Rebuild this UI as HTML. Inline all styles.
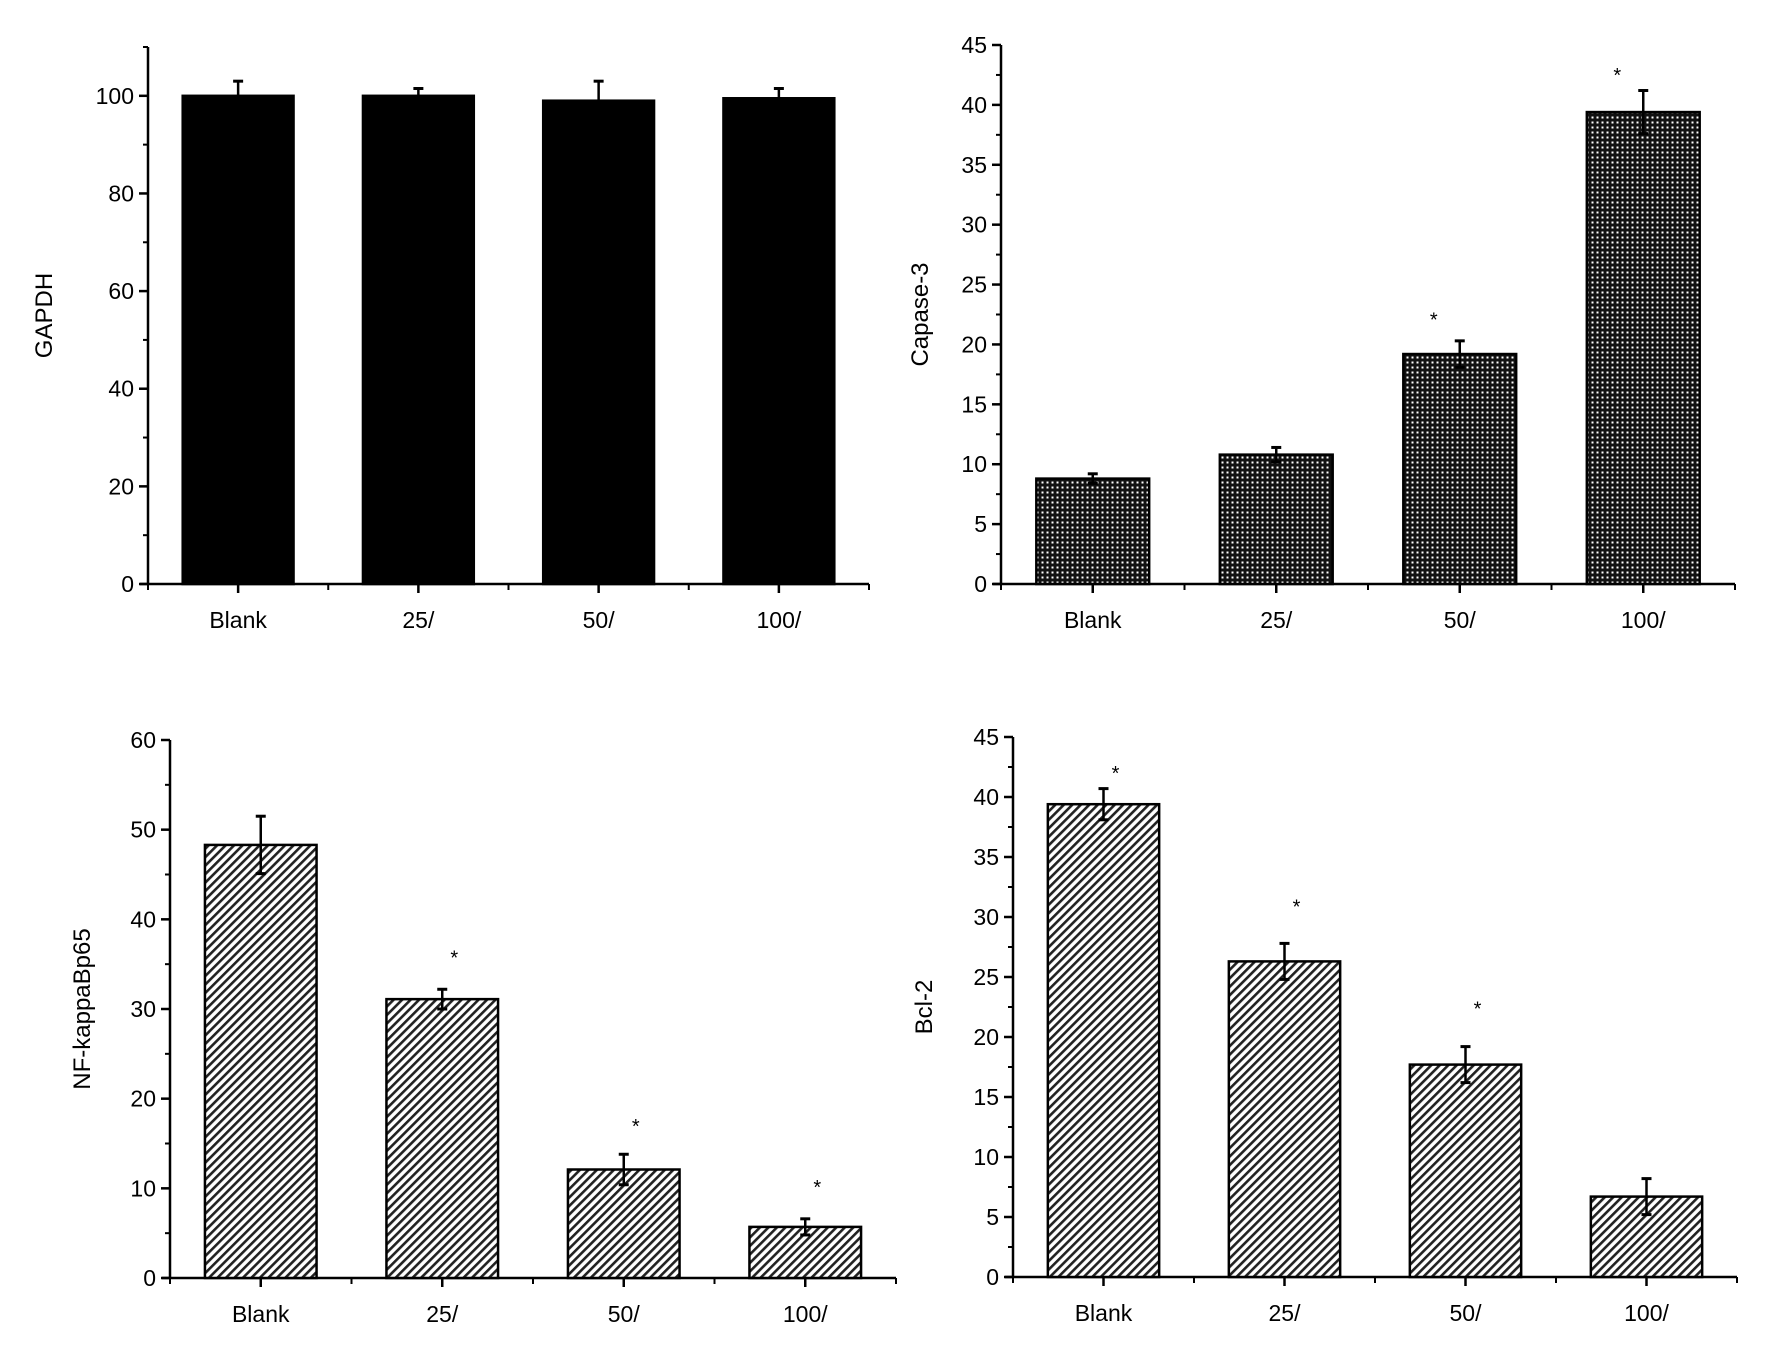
<!DOCTYPE html>
<html><head><meta charset="utf-8"><style>
html,body{margin:0;padding:0;background:#fff;}
svg{display:block;font-family:"Liberation Sans",Arial,sans-serif;}
</style></head><body>
<svg id="chart" width="1772" height="1353" viewBox="0 0 1772 1353">
<defs>
<pattern id="grid" width="5" height="5" patternUnits="userSpaceOnUse">
<rect width="5" height="5" fill="#111"/><rect x="1.5" y="1.5" width="2" height="2" fill="#fff"/>
</pattern>
<pattern id="hatch" width="6" height="6" patternUnits="userSpaceOnUse" patternTransform="rotate(45)">
<rect width="6" height="6" fill="#fff"/><rect width="2.6" height="6" fill="#222"/>
</pattern>
</defs>
</svg>
<script>
const categories = ["Blank","25/","50/","100/"];
const gapdhValues = [100,100,99,99.5];
const gapdhErrors = [3,1.5,4,2];
const gapdhStars = [null,null,null,null];
const gapdhTicks = [0,20,40,60,80,100];
const casp3Values = [8.8,10.8,19.2,39.4];
const casp3Errors = [0.4,0.6,1.1,1.8];
const casp3Stars = [null,null,22.5,42.9];
const casp3Ticks = [0,5,10,15,20,25,30,35,40,45];
const nfkbValues = [48.3,31.1,12.1,5.7];
const nfkbErrors = [3.2,1.1,1.7,0.9];
const nfkbStars = [null,36.3,17.5,10.7];
const nfkbTicks = [0,10,20,30,40,50,60];
const bcl2Values = [39.4,26.3,17.7,6.7];
const bcl2Errors = [1.3,1.5,1.5,1.5];
const bcl2Stars = [42.4,31.3,22.8,null];
const bcl2Ticks = [0,5,10,15,20,25,30,35,40,45];

const svg = document.getElementById('chart');
const NS = 'http://www.w3.org/2000/svg';
function mk(tag, attrs, parent){
  const e = document.createElementNS(NS, tag);
  for (const k in attrs) e.setAttribute(k, attrs[k]);
  (parent||svg).appendChild(e);
  return e;
}
function panel(cfg){
  const g = mk('g', {});
  
  
  const y = v => cfg.y0 - v / cfg.ymax * (cfg.y0 - cfg.ytop);
  const step = (cfg.x1 - cfg.x0) / categories.length;
  const x = i => cfg.x0 + step * (i + 0.5);
  const ya = mk('line', {x1:cfg.x0, y1:cfg.ytop, x2:cfg.x0, y2:cfg.y0+1, stroke:'#000','stroke-width':2.5}, g);
  
  
  const xa = mk('line', {x1:cfg.x0-8, y1:cfg.y0, x2:cfg.x1, y2:cfg.y0, stroke:'#000','stroke-width':2.5}, g);
  
  
  const t = cfg.ticks;
  const dt = t[1] - t[0];
  for (let i = 0; i < t.length; i++) {
    mk('line', {x1:cfg.x0-9, y1:y(t[i]), x2:cfg.x0, y2:y(t[i]), stroke:'#000','stroke-width':2.5}, g);
    if (t[i] + dt/2 <= cfg.ymax) mk('line', {x1:cfg.x0-5, y1:y(t[i]+dt/2), x2:cfg.x0, y2:y(t[i]+dt/2), stroke:'#000','stroke-width':2}, g);
    const tl = mk('text', {x:cfg.x0-14, y:y(t[i])+8, 'text-anchor':'end','font-size':23}, g);
    tl.textContent = t[i];
    
    
  }
  if (cfg.ymax > t[t.length-1] + dt/2) mk('line', {x1:cfg.x0-5, y1:y(cfg.ymax), x2:cfg.x0, y2:y(cfg.ymax), stroke:'#000','stroke-width':2}, g);
  for (let i = 0; i <= categories.length; i++) {
    mk('line', {x1:cfg.x0+step*i, y1:cfg.y0, x2:cfg.x0+step*i, y2:cfg.y0+6, stroke:'#000','stroke-width':2}, g);
  }
  const bw = step * 0.615;
  for (let i = 0; i < categories.length; i++) {
    mk('line', {x1:x(i), y1:cfg.y0, x2:x(i), y2:cfg.y0+9, stroke:'#000','stroke-width':2.5}, g);
    const xl = mk('text', {x:x(i), y:cfg.y0+44, 'text-anchor':'middle','font-size':23}, g);
    xl.textContent = categories[i];
    
    
    const v = cfg.values[i];
    const b = mk('rect', {x:x(i)-bw/2, y:y(v), width:bw, height:cfg.y0-y(v), fill:cfg.fill, stroke:'#000','stroke-width':2.5}, g);
    
    
    const e = cfg.errors[i];
    const eb = mk('g', {}, g);
    
    
    mk('line', {x1:x(i), y1:y(v+e), x2:x(i), y2:cfg.fill==='#000'?y(v):y(v-e), stroke:'#000','stroke-width':2.5}, eb);
    mk('line', {x1:x(i)-5, y1:y(v+e), x2:x(i)+5, y2:y(v+e), stroke:'#000','stroke-width':3}, eb);
    if (cfg.fill !== '#000') mk('line', {x1:x(i)-5, y1:y(v-e), x2:x(i)+5, y2:y(v-e), stroke:'#000','stroke-width':3}, eb);
    if (cfg.stars[i] !== null) {
      const s = mk('text', {x:x(i)+cfg.starDx, y:y(cfg.stars[i])+12, 'text-anchor':'middle','font-size':20}, g);
      s.textContent = '*';
      
      
    }
  }
  const cy = (cfg.ytop + cfg.y0) / 2;
  const lab = mk('text', {x:cfg.labelX, y:cy, 'text-anchor':'middle','font-size':24, transform:'rotate(-90 '+cfg.labelX+' '+cy+')'}, g);
  lab.textContent = cfg.label;
  
  
}
panel({name:'gapdh', x0:148, x1:869, y0:584, ytop:47, ymax:110, ticks:gapdhTicks, values:gapdhValues, errors:gapdhErrors, stars:gapdhStars, starDx:0, fill:'#000', label:'GAPDH', labelX:52});
panel({name:'caspase3', x0:1001, x1:1735, y0:584, ytop:45, ymax:45, ticks:casp3Ticks, values:casp3Values, errors:casp3Errors, stars:casp3Stars, starDx:-26, fill:'url(#grid)', label:'Capase-3', labelX:928});
panel({name:'nfkb', x0:170, x1:896, y0:1278, ytop:740, ymax:60, ticks:nfkbTicks, values:nfkbValues, errors:nfkbErrors, stars:nfkbStars, starDx:12, fill:'url(#hatch)', label:'NF-kappaBp65', labelX:90});
panel({name:'bcl2', x0:1013, x1:1737, y0:1277, ytop:737, ymax:45, ticks:bcl2Ticks, values:bcl2Values, errors:bcl2Errors, stars:bcl2Stars, starDx:12, fill:'url(#hatch)', label:'Bcl-2', labelX:932});
</script>
</body></html>
